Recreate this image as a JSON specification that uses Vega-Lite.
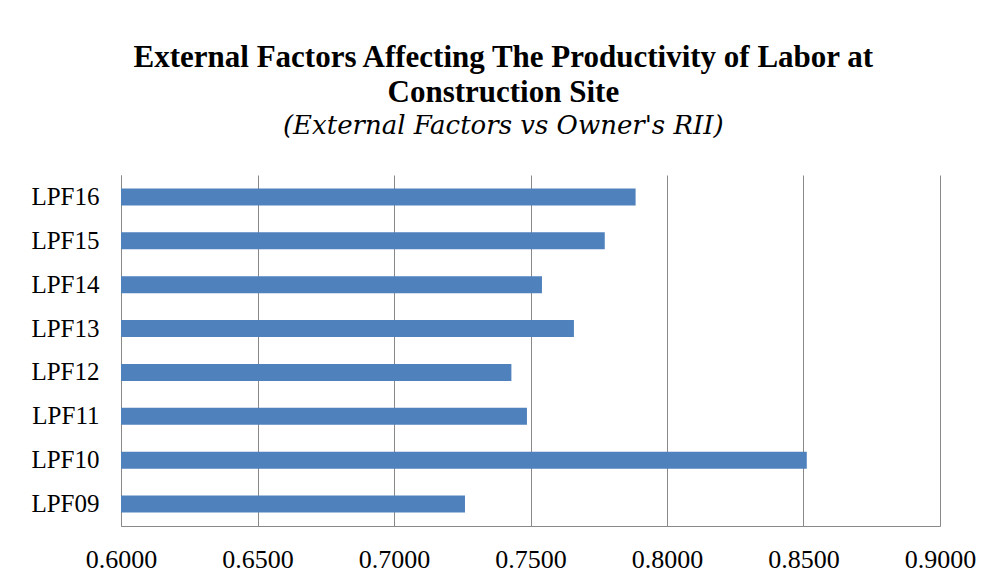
{
  "$schema": "https://vega.github.io/schema/vega-lite/v6.json",
  "width": 819,
  "height": 351,
  "autosize": {"type": "none"},
  "padding": {"left": 121, "top": 175, "right": 59, "bottom": 55},
  "background": "white",
  "title": {
    "text": ["External Factors Affecting The Productivity of Labor at", "Construction Site"],
    "subtitle": "(External Factors vs Owner's RII)",
    "anchor": "middle",
    "frame": "bounds",
    "offset": 35
  },
  "data": {
    "values": [
      {"factor": "LPF16", "rii": 0.7885},
      {"factor": "LPF15", "rii": 0.7772},
      {"factor": "LPF14", "rii": 0.7542},
      {"factor": "LPF13", "rii": 0.7659},
      {"factor": "LPF12", "rii": 0.7430},
      {"factor": "LPF11", "rii": 0.7487},
      {"factor": "LPF10", "rii": 0.8512},
      {"factor": "LPF09", "rii": 0.7260}
    ]
  },
  "mark": {"type": "bar", "color": "#4F81BD", "clip": true},
  "encoding": {
    "y": {
      "field": "factor",
      "type": "nominal",
      "sort": null,
      "scale": {"paddingInner": 0.61, "paddingOuter": 0.305},
      "axis": {
        "title": null,
        "labelFont": "Liberation Serif",
        "labelFontSize": 25,
        "labelColor": "#000000",
        "labelPadding": 22,
        "ticks": false,
        "domain": true,
        "domainColor": "#898989",
        "domainWidth": 1,
        "grid": false
      }
    },
    "x": {
      "field": "rii",
      "type": "quantitative",
      "scale": {"domain": [0.6, 0.9], "zero": false, "nice": false},
      "axis": {
        "title": null,
        "values": [0.6, 0.65, 0.7, 0.75, 0.8, 0.85, 0.9],
        "format": ".4f",
        "labelFont": "Liberation Serif",
        "labelFontSize": 26,
        "labelColor": "#000000",
        "labelPadding": 20,
        "labelBaseline": "top",
        "labelFlush": false,
        "labelOverlap": false,
        "ticks": false,
        "domain": true,
        "domainColor": "#898989",
        "domainWidth": 1,
        "grid": true,
        "gridColor": "#898989",
        "gridWidth": 1
      }
    }
  },
  "config": {
    "view": {"stroke": null},
    "title": {
      "font": "Liberation Serif",
      "fontSize": 31,
      "fontWeight": "bold",
      "color": "#000000",
      "lineHeight": 35,
      "subtitleFont": "DejaVu Serif",
      "subtitleFontSize": 26,
      "subtitleFontStyle": "italic",
      "subtitleFontWeight": "normal",
      "subtitleColor": "#000000",
      "subtitlePadding": 4
    }
  }
}
